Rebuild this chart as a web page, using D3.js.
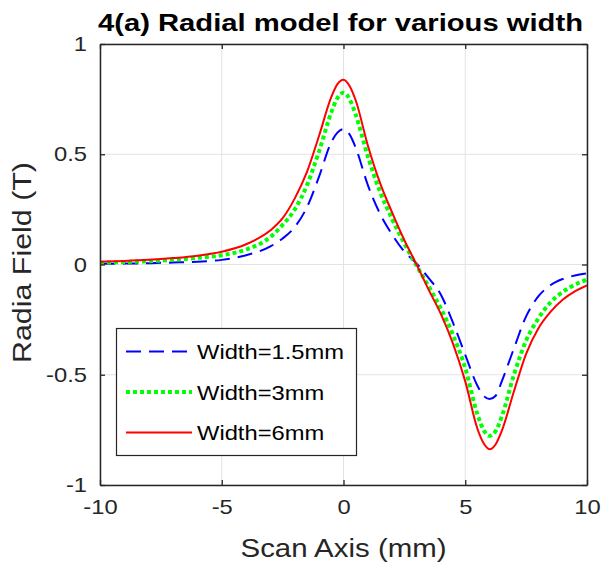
<!doctype html>
<html lang="en">
<head>
<meta charset="utf-8">
<title>Radial model for various width</title>
<script src="https://cdn.jsdelivr.net/npm/d3@7/dist/d3.min.js"></script>
<style>
  body { margin: 0; background: #fff; }
  text { font-family: "Liberation Sans", Arial, sans-serif; fill: #262626; }
</style>
</head>
<body>
<svg id="chart" width="603" height="564"></svg>
<script>
// scan positions (mm)
var xs = [-10,-9,-8,-7,-6,-5,-4,-3,-2.5,-2,-1.5,-1,-0.5,-0.25,0,0.25,0.5,1,1.5,2,2.5,3,3.5,4,4.5,5,5.5,5.75,6,6.25,6.5,7,7.5,8,8.5,9,9.5,10];

// radial field (T) per magnet width
var width15 = [0.003,0.004,0.006,0.009,0.013,0.021,0.042,0.082,0.118,0.17,0.26,0.40,0.555,0.598,0.614,0.59,0.53,0.36,0.23,0.135,0.058,0.005,-0.062,-0.137,-0.265,-0.41,-0.55,-0.595,-0.61,-0.595,-0.53,-0.38,-0.235,-0.145,-0.094,-0.066,-0.05,-0.04];
var width3 = [0.008,0.011,0.015,0.021,0.030,0.042,0.068,0.125,0.18,0.25,0.36,0.515,0.69,0.755,0.779,0.75,0.68,0.49,0.33,0.205,0.095,-0.005,-0.1,-0.2,-0.32,-0.47,-0.68,-0.75,-0.777,-0.755,-0.69,-0.50,-0.345,-0.245,-0.172,-0.125,-0.092,-0.068];
var width6 = [0.013,0.016,0.021,0.029,0.040,0.058,0.092,0.155,0.21,0.30,0.42,0.585,0.76,0.818,0.838,0.81,0.745,0.54,0.37,0.235,0.11,0.0,-0.115,-0.225,-0.36,-0.53,-0.745,-0.81,-0.838,-0.815,-0.755,-0.575,-0.405,-0.29,-0.215,-0.16,-0.122,-0.095];

var seriesNames = ["Width=1.5mm", "Width=3mm", "Width=6mm"];
var xTicks = [-10, -5, 0, 5, 10];
var yTicks = [-1, -0.5, 0, 0.5, 1];

var svg = d3.select("#chart");
var pL = 100, pR = 587, pT = 44, pB = 485;

var x = d3.scaleLinear().domain([-10, 10]).range([pL, pR]);
var y = d3.scaleLinear().domain([-1, 1]).range([pB, pT]);

// the original lettering is a little wider than Arial
function stretch(sel, k) {
  sel.each(function() {
    var w = this.getComputedTextLength();
    d3.select(this).attr("textLength", w * k).attr("lengthAdjust", "spacingAndGlyphs");
  });
}

// grid
svg.append("g").selectAll("line").data(xTicks).enter().append("line")
  .attr("x1", d => x(d)).attr("x2", d => x(d))
  .attr("y1", pT).attr("y2", pB)
  .style("stroke", "#e3e3e3").style("stroke-width", 1);
svg.append("g").selectAll("line").data(yTicks).enter().append("line")
  .attr("x1", pL).attr("x2", pR)
  .attr("y1", d => y(d)).attr("y2", d => y(d))
  .style("stroke", "#e3e3e3").style("stroke-width", 1);

svg.append("clipPath").attr("id", "clip").append("rect")
  .attr("x", pL).attr("y", pT).attr("width", pR - pL).attr("height", pB - pT);

var line = d3.line().curve(d3.curveMonotoneX);
var styles = [
  { data: width15, color: "#0000ff", w: 2, dash: "15,8" },
  { data: width3, color: "#00ff00", w: 4, dash: "4,3" },
  { data: width6, color: "#ff0000", w: 2, dash: null }
];
var plot = svg.append("g").attr("clip-path", "url(#clip)");
styles.forEach(s => {
  plot.append("path")
    .attr("d", line(xs.map((v, i) => [x(v), y(s.data[i])])))
    .style("fill", "none")
    .style("stroke", s.color)
    .style("stroke-width", s.w)
    .style("stroke-dasharray", s.dash);
});

// axes box and inward ticks
var fmt = d => String(d);
var axB = d3.axisBottom(x).tickValues(xTicks).tickSizeInner(-5).tickSizeOuter(0).tickPadding(14).tickFormat(fmt);
var axL = d3.axisLeft(y).tickValues(yTicks).tickSizeInner(-5).tickSizeOuter(0).tickPadding(13).tickFormat(fmt);
var axT = d3.axisTop(x).tickValues(xTicks).tickSizeInner(-5).tickSizeOuter(0).tickFormat("");
var axR = d3.axisRight(y).tickValues(yTicks).tickSizeInner(-5).tickSizeOuter(0).tickFormat("");

[[axB, "translate(0," + pB + ")"], [axL, "translate(" + pL + ",0)"],
 [axT, "translate(0," + pT + ")"], [axR, "translate(" + pR + ",0)"]].forEach(a => {
  var g = svg.append("g").attr("transform", a[1]).call(a[0]);
  g.select(".domain").style("stroke", "#262626").style("stroke-width", 1.5);
  g.selectAll(".tick line").style("stroke", "#262626").style("stroke-width", 1.3);
  var t = g.selectAll(".tick text").style("font-size", "21px")
    .style("font-family", "Liberation Sans, Arial, sans-serif").style("fill", "#262626");
  stretch(t, 1.13);
});

// titles
var title = svg.append("text").attr("x", 340.5).attr("y", 31)
  .attr("text-anchor", "middle").style("font-size", "24px").style("font-weight", "bold")
  .style("fill", "#000").text("4(a) Radial model for various width")
  .attr("textLength", 485).attr("lengthAdjust", "spacingAndGlyphs");
svg.append("text").attr("x", (pL + pR) / 2).attr("y", 557)
  .attr("text-anchor", "middle").style("font-size", "25px").text("Scan Axis (mm)")
  .attr("textLength", 206).attr("lengthAdjust", "spacingAndGlyphs");
svg.append("text").attr("transform", "translate(31,262.5) rotate(-90)")
  .attr("text-anchor", "middle").style("font-size", "25px").text("Radia Field (T)")
  .attr("textLength", 201).attr("lengthAdjust", "spacingAndGlyphs");

// legend
var lg = svg.append("g");
lg.append("rect").attr("x", 116.5).attr("y", 328.5).attr("width", 240).attr("height", 127)
  .style("fill", "#fff").style("stroke", "#262626").style("stroke-width", 1.2);
styles.forEach((s, i) => {
  var ly = 351.5 + i * 40.5;
  lg.append("line").attr("x1", 126).attr("x2", 192).attr("y1", ly).attr("y2", ly)
    .style("stroke", s.color).style("stroke-width", s.w).style("stroke-dasharray", s.dash);
  var t = lg.append("text").attr("x", 197).attr("y", ly + 7.5).style("font-size", "21px")
    .style("fill", "#000").text(seriesNames[i]);
  stretch(t, 1.13);
});
</script>
</body>
</html>
